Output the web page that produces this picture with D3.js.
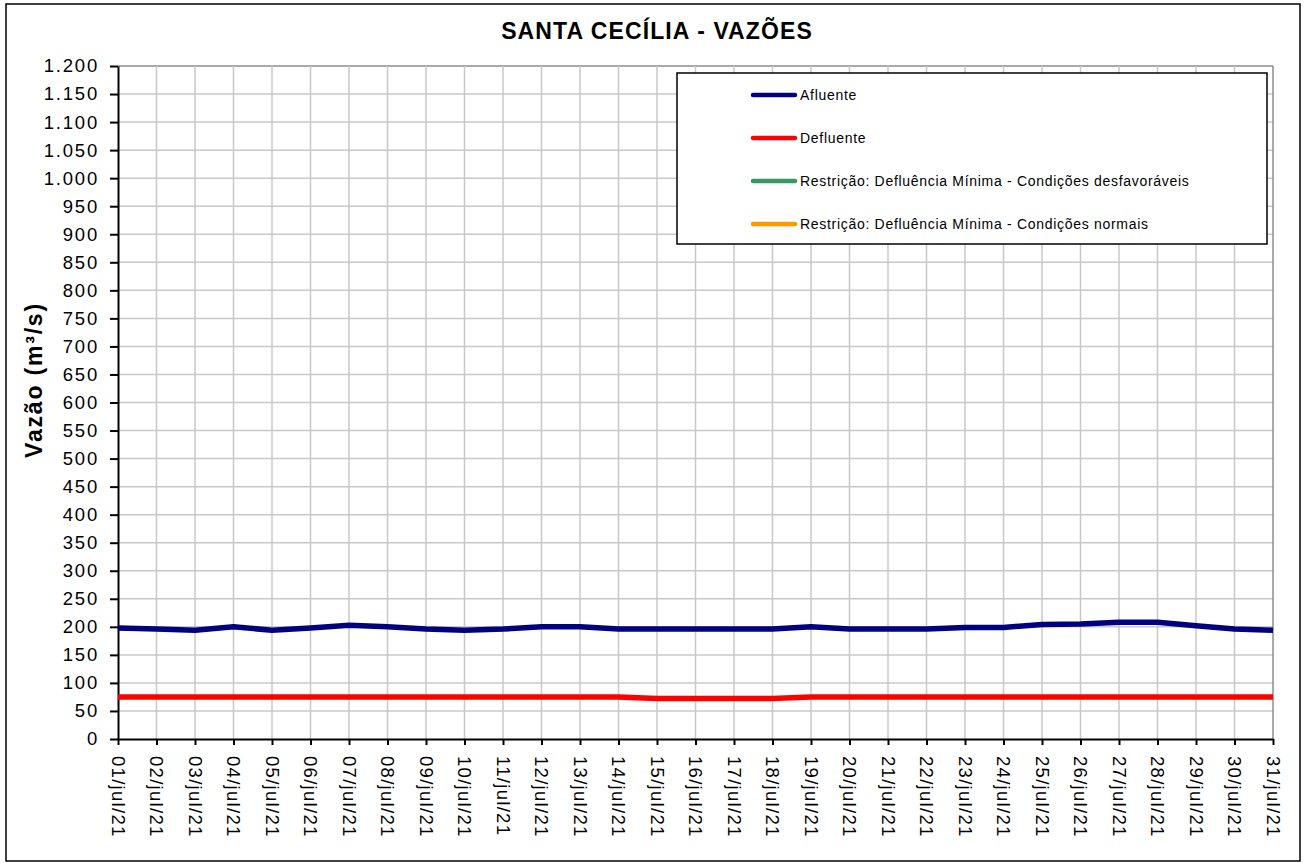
<!DOCTYPE html>
<html>
<head>
<meta charset="utf-8">
<script src="https://cdn.jsdelivr.net/npm/d3@7"></script>
<style>
  body { margin: 0; background: #fff; }
  svg { display: block; font-family: "Liberation Sans", Arial, sans-serif; }
</style>
</head>
<body>
<svg id="chart" width="1304" height="863"></svg>
<script>
// days of july 2021
var days = ['01/jul/21', '02/jul/21', '03/jul/21', '04/jul/21', '05/jul/21', '06/jul/21',
  '07/jul/21', '08/jul/21', '09/jul/21', '10/jul/21', '11/jul/21', '12/jul/21', '13/jul/21',
  '14/jul/21', '15/jul/21', '16/jul/21', '17/jul/21', '18/jul/21', '19/jul/21', '20/jul/21',
  '21/jul/21', '22/jul/21', '23/jul/21', '24/jul/21', '25/jul/21', '26/jul/21', '27/jul/21',
  '28/jul/21', '29/jul/21', '30/jul/21', '31/jul/21'];

var afluente = [198, 196, 194, 200, 194, 198, 203, 200, 196, 194, 196, 200, 200, 196, 196, 196,
  196, 196, 200, 196, 196, 196, 199, 199, 204, 205, 208, 208, 202, 196, 194];

var defluente = [75, 75, 75, 75, 75, 75, 75, 75, 75, 75, 75, 75, 75, 75, 72, 72,
  72, 72, 75, 75, 75, 75, 75, 75, 75, 75, 75, 75, 75, 75, 75];

// restrictions have no values in this period, only show up in the legend
var restricaoDesfavoravel = [];
var restricaoNormal = [];

var yTicks = d3.range(0, 1201, 50);

var seriesNames = ['Afluente', 'Defluente',
  'Restrição: Defluência Mínima - Condições desfavoráveis',
  'Restrição: Defluência Mínima - Condições normais'];
var seriesColors = ['#000080', '#ff0000', '#339966', '#ff9900'];

var svg = d3.select('#chart');
var margin = { left: 118, right: 1273, top: 66, bottom: 739 };

var x = d3.scalePoint()
  .domain(days)
  .range([margin.left, margin.right]);

var y = d3.scaleLinear()
  .domain([0, 1200])
  .range([margin.bottom, margin.top]);

var fmt = function(v) {
  // thousand separator is a dot
  return d3.format(',')(v).replace(/,/g, '.');
};

// outer frame
svg.append('rect')
  .attr('x', 6)
  .attr('y', 4)
  .attr('width', 1294)
  .attr('height', 857)
  .attr('fill', '#fff')
  .attr('stroke', '#000')
  .attr('stroke-width', 1.5);

svg.append('text')
  .attr('x', 657)
  .attr('y', 39)
  .attr('text-anchor', 'middle')
  .attr('font-size', 23)
  .attr('font-weight', 'bold')
  .attr('letter-spacing', 1.1)
  .text('SANTA CECÍLIA - VAZÕES');

// grid
var grid = svg.append('g').attr('class', 'grid');
grid.selectAll('line.h')
  .data(yTicks.slice(1))
  .enter()
  .append('line')
  .attr('class', 'h')
  .attr('x1', margin.left)
  .attr('x2', margin.right)
  .attr('y1', function(d) { return y(d); })
  .attr('y2', function(d) { return y(d); })
  .attr('stroke', function(d) { return d === 1200 ? '#8c8c8c' : '#c8c8c8'; })
  .attr('stroke-width', 1.5);
grid.selectAll('line.v')
  .data(days.slice(1))
  .enter()
  .append('line')
  .attr('class', 'v')
  .attr('x1', function(d) { return x(d); })
  .attr('x2', function(d) { return x(d); })
  .attr('y1', margin.top)
  .attr('y2', margin.bottom)
  .attr('stroke', function(d, i) { return i === days.length - 2 ? '#8c8c8c' : '#c8c8c8'; })
  .attr('stroke-width', 1.5);

// axes
var yAxis = svg.append('g')
  .attr('transform', 'translate(' + margin.left + ',0)')
  .call(d3.axisLeft(y).tickValues(yTicks).tickFormat(fmt).tickSizeInner(8).tickSizeOuter(0).tickPadding(11));
yAxis.select('.domain').attr('stroke', '#000').attr('stroke-width', 2);
yAxis.selectAll('.tick line').attr('stroke', '#000').attr('stroke-width', 2);
yAxis.selectAll('.tick text')
  .attr('font-size', 18.5)
  .attr('letter-spacing', 1.8)
  .attr('fill', '#000')
  .attr('font-family', '"Liberation Sans", Arial, sans-serif');

var xAxis = svg.append('g')
  .attr('transform', 'translate(0,' + margin.bottom + ')')
  .call(d3.axisBottom(x).tickSizeInner(6).tickSizeOuter(0).tickPadding(0));
xAxis.select('.domain').attr('stroke', '#000').attr('stroke-width', 2);
xAxis.selectAll('.tick line').attr('stroke', '#000').attr('stroke-width', 2);
xAxis.selectAll('.tick text')
  .attr('font-size', 18.5)
  .attr('letter-spacing', 1.3)
  .attr('fill', '#000')
  .attr('font-family', '"Liberation Sans", Arial, sans-serif')
  .attr('text-anchor', 'start')
  .attr('dy', null)
  .attr('dominant-baseline', 'middle')
  .attr('transform', 'translate(-2,17) rotate(90)')
  .attr('y', 0)
  .attr('x', 0);

svg.append('text')
  .attr('transform', 'translate(42,380) rotate(-90)')
  .attr('text-anchor', 'middle')
  .attr('font-size', 23)
  .attr('font-weight', 'bold')
  .attr('letter-spacing', 1.8)
  .text('Vazão (m³/s)');

// series
var line = d3.line()
  .defined(function(d) { return d != null; })
  .x(function(d, i) { return x(days[i]); })
  .y(function(d) { return y(d); });

var allSeries = [afluente, defluente, restricaoDesfavoravel, restricaoNormal];
svg.append('g')
  .selectAll('path')
  .data(allSeries)
  .enter()
  .append('path')
  .attr('d', function(d) { return d.length ? line(d) : null; })
  .attr('fill', 'none')
  .attr('stroke', function(d, i) { return seriesColors[i]; })
  .attr('stroke-width', 5.5)
  .attr('stroke-linejoin', 'round');

// legend
var legend = svg.append('g');
legend.append('rect')
  .attr('x', 677)
  .attr('y', 73)
  .attr('width', 590)
  .attr('height', 171)
  .attr('fill', '#fff')
  .attr('stroke', '#000')
  .attr('stroke-width', 1.5);

var legendRows = [95, 138, 181, 224];
var items = legend.selectAll('g.item')
  .data(seriesNames)
  .enter()
  .append('g')
  .attr('class', 'item')
  .attr('transform', function(d, i) { return 'translate(0,' + legendRows[i] + ')'; });
items.append('line')
  .attr('x1', 753)
  .attr('x2', 795)
  .attr('stroke', function(d, i) { return seriesColors[i]; })
  .attr('stroke-width', 4.5)
  .attr('stroke-linecap', 'round');
items.append('text')
  .attr('x', 800)
  .attr('y', 0)
  .attr('dy', '0.35em')
  .attr('font-size', 14)
  .attr('letter-spacing', 0.7)
  .text(function(d) { return d; });
</script>
</body>
</html>
